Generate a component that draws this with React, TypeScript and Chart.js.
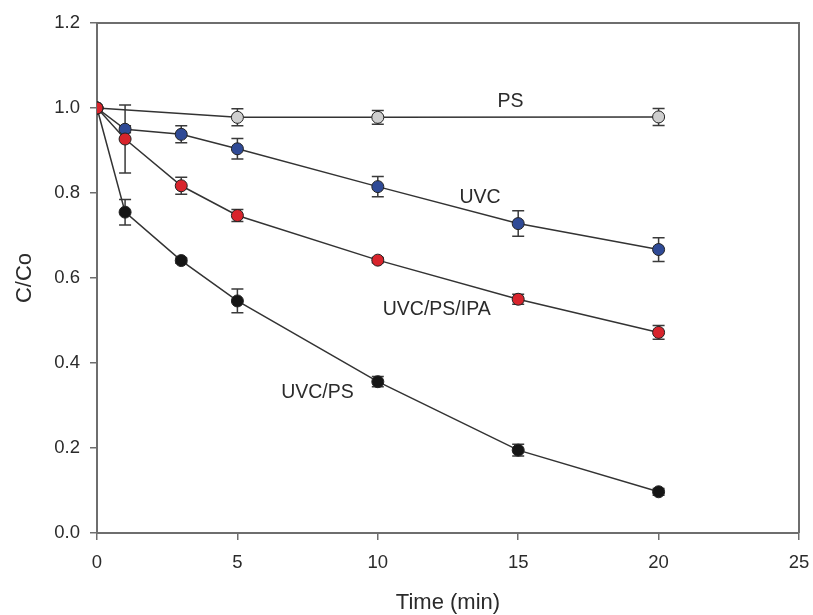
import React, { useEffect, useRef } from "react";
import { Chart, registerables } from "chart.js";

Chart.register(...registerables);

const timeMain = [0, 1, 3, 5, 10, 15, 20];
const timePS = [0, 5, 10, 20];

const valuesPS = [1.0, 0.978, 0.978, 0.979];
const errorsPS = [0, 0.02, 0.016, 0.02];

const valuesUVC = [1.0, 0.95, 0.938, 0.904, 0.815, 0.728, 0.667];
const errorsUVC = [0, 0.008, 0.02, 0.024, 0.024, 0.03, 0.028];

const valuesIPA = [1.0, 0.927, 0.817, 0.747, 0.642, 0.55, 0.472];
const errorsIPA = [0, 0.08, 0.02, 0.014, 0.006, 0.012, 0.016];

const valuesUVCPS = [1.0, 0.755, 0.641, 0.546, 0.356, 0.195, 0.097];
const errorsUVCPS = [0, 0.03, 0.006, 0.028, 0.012, 0.014, 0.008];

const seriesNames = ["PS", "UVC", "UVC/PS/IPA", "UVC/PS"];
const labelX = [14.73, 13.64, 12.1, 7.85];
const labelY = [1.015, 0.79, 0.525, 0.33];

const xTicks = [0, 5, 10, 15, 20, 25];
const yTicks = [0, 0.2, 0.4, 0.6, 0.8, 1.0, 1.2];

const FONT = "'Liberation Sans', Arial, sans-serif";
const AXIS = "#6e6e6e";
const TEXT = "#2b2b2b";

const toPoints = (xs: number[], ys: number[]) => xs.map((x, i) => ({ x, y: ys[i] }));

const errorBarPlugin = {
  id: "errorBars",
  beforeDatasetsDraw(chart: any) {
    const { ctx, scales } = chart;
    const xs = scales.x;
    const ys = scales.y;
    ctx.save();
    ctx.strokeStyle = "#3a3a3a";
    ctx.lineWidth = 1.5;
    chart.data.datasets.forEach((ds: any) => {
      const errs: number[] = ds.errors || [];
      ds.data.forEach((p: any, i: number) => {
        const e = errs[i];
        if (!e) return;
        const px = xs.getPixelForValue(p.x);
        const top = ys.getPixelForValue(p.y + e);
        const bot = ys.getPixelForValue(p.y - e);
        ctx.beginPath();
        ctx.moveTo(px, top);
        ctx.lineTo(px, bot);
        ctx.moveTo(px - 6, top);
        ctx.lineTo(px + 6, top);
        ctx.moveTo(px - 6, bot);
        ctx.lineTo(px + 6, bot);
        ctx.stroke();
      });
    });
    ctx.restore();
  },
};

const framePlugin = {
  id: "frame",
  afterDraw(chart: any) {
    const { ctx, chartArea } = chart;
    ctx.save();
    ctx.strokeStyle = AXIS;
    ctx.lineWidth = 2;
    ctx.beginPath();
    ctx.moveTo(chartArea.left, chartArea.top);
    ctx.lineTo(chartArea.right, chartArea.top);
    ctx.lineTo(chartArea.right, chartArea.bottom);
    ctx.stroke();
    ctx.restore();
  },
};

const labelPlugin = {
  id: "seriesLabels",
  afterDatasetsDraw(chart: any) {
    const { ctx, scales } = chart;
    ctx.save();
    ctx.fillStyle = TEXT;
    ctx.font = `19.5px ${FONT}`;
    ctx.textAlign = "center";
    ctx.textBaseline = "middle";
    seriesNames.forEach((name, i) => {
      ctx.fillText(name, scales.x.getPixelForValue(labelX[i]), scales.y.getPixelForValue(labelY[i]));
    });
    ctx.restore();
  },
};

export default function App() {
  const canvasRef = useRef<HTMLCanvasElement | null>(null);

  useEffect(() => {
    if (!canvasRef.current) return;
    const common = {
      showLine: true,
      tension: 0,
      borderColor: "#333333",
      borderWidth: 1.5,
      pointRadius: 6,
      pointBorderWidth: 1,
      pointBorderColor: "#222222",
    };
    const chart = new Chart(canvasRef.current, {
      type: "line",
      data: {
        datasets: [
          { ...common, label: seriesNames[0], data: toPoints(timePS, valuesPS), errors: errorsPS, pointBackgroundColor: "#cfcfcf", order: 3 } as any,
          { ...common, label: seriesNames[1], data: toPoints(timeMain, valuesUVC), errors: errorsUVC, pointBackgroundColor: "#2f4a96", order: 2 } as any,
          { ...common, label: seriesNames[3], data: toPoints(timeMain, valuesUVCPS), errors: errorsUVCPS, pointBackgroundColor: "#151515", order: 1 } as any,
          { ...common, label: seriesNames[2], data: toPoints(timeMain, valuesIPA), errors: errorsIPA, pointBackgroundColor: "#d8242c", order: 0 } as any,
        ],
      },
      options: {
        animation: false,
        responsive: true,
        maintainAspectRatio: false,
        layout: { padding: { left: 0, right: 14, top: 23, bottom: 0 } },
        plugins: { legend: { display: false }, tooltip: { enabled: false } },
        scales: {
          x: {
            type: "linear",
            min: 0,
            max: 25,
            afterFit: (s: any) => { s.height = 82; s.paddingLeft = 0; s.paddingRight = 0; },
            afterBuildTicks: (s: any) => { s.ticks = xTicks.map((v) => ({ value: v })); },
            ticks: { color: TEXT, font: { family: FONT, size: 18.5 }, padding: 12, maxRotation: 0 },
            grid: { drawOnChartArea: false, drawTicks: true, tickLength: 7, color: AXIS, lineWidth: 1.5 },
            border: { display: true, color: AXIS, width: 2 },
            title: { display: true, text: "Time (min)", color: TEXT, font: { family: FONT, size: 22, lineHeight: 1 }, padding: { top: 0, bottom: 1 } },
          },
          y: {
            type: "linear",
            min: 0,
            max: 1.2,
            afterFit: (s: any) => { s.width = 97; },
            afterBuildTicks: (s: any) => { s.ticks = yTicks.map((v) => ({ value: v })); },
            ticks: { color: TEXT, font: { family: FONT, size: 18.5 }, padding: 10, callback: (v: any) => Number(v).toFixed(1) },
            grid: { drawOnChartArea: false, drawTicks: true, tickLength: 7, color: AXIS, lineWidth: 1.5 },
            border: { display: true, color: AXIS, width: 2 },
            title: { display: true, text: "C/Co", color: TEXT, font: { family: FONT, size: 22, lineHeight: 1 }, padding: { top: 14, bottom: 0 } },
          },
        },
      } as any,
      plugins: [errorBarPlugin, labelPlugin, framePlugin],
    });
    return () => chart.destroy();
  }, []);

  return (
    <div style={{ position: "fixed", left: 0, top: 0, width: 813, height: 615, background: "#fff" }}>
      <canvas ref={canvasRef} />
    </div>
  );
}
